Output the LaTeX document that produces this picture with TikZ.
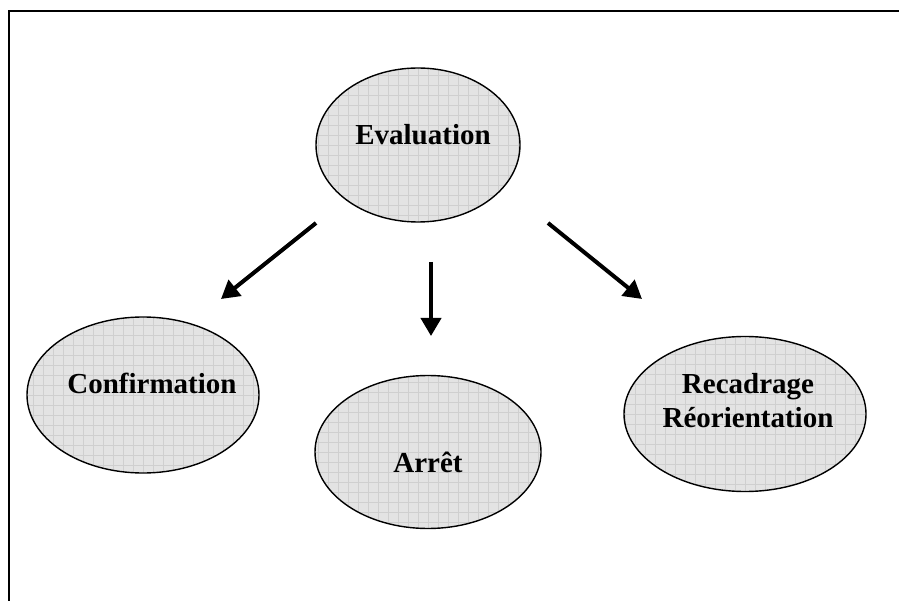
\documentclass[tikz,border=0pt]{standalone}
\usepackage{fontspec}
\setmainfont{Liberation Serif}
\usetikzlibrary{shapes.geometric,arrows.meta,positioning}
\definecolor{grisfond}{gray}{0.89}
\definecolor{grisgrille}{gray}{0.81}
\tikzset{
	bulle/.style={ellipse, draw, line width=1.4pt, fill=grisfond, inner sep=0pt,
		path picture={\draw[grisgrille, line width=0.6pt] (path picture bounding box.south west) grid[step=10pt] (path picture bounding box.north east);}},
	mot/.style={font=\bfseries\fontsize{29}{34}\selectfont, inner sep=0pt, anchor=base, align=center},
	fleche/.style={->, line width=4pt}
}
\begin{document}
\begin{tikzpicture}[x=1pt, y=-1pt, line join=miter, >={Triangle[length=18pt,width=20pt]}]
			\useasboundingbox (0,0) rectangle (899,601);
			\draw[line width=2pt] (9,601)--(9,11)--(899,11);
			% les bulles
			\node[bulle, minimum width=204, minimum height=154] (eval) at (418,145) {};
			\node[bulle, minimum width=232, minimum height=156] (confirm) at (143,395) {};
			\node[bulle, minimum width=226, minimum height=153] (arret) at (428,452) {};
			\node[bulle, minimum width=242, minimum height=155] (recad) at (745,414) {};
			\node[mot] (tEval) at (423,145) {Evaluation};
			\node[mot] (tConfirm) at (152,393) {Confirmation};
			\node[mot] (tArret) at (428,472) {Arrêt};
			\node[mot] (tRecad) at (748,427) {Recadrage\\Réorientation};
			% les fleches
			\coordinate (d1) at (316,223); \coordinate (f1) at (221,299);
			\coordinate (d2) at (431,262); \coordinate (f2) at (431,336);
			\coordinate (d3) at (548,223); \coordinate (f3) at (642,299);
			\foreach \i in {1,2,3} \draw[fleche] (d\i)--(f\i);
\end{tikzpicture}
\end{document}
